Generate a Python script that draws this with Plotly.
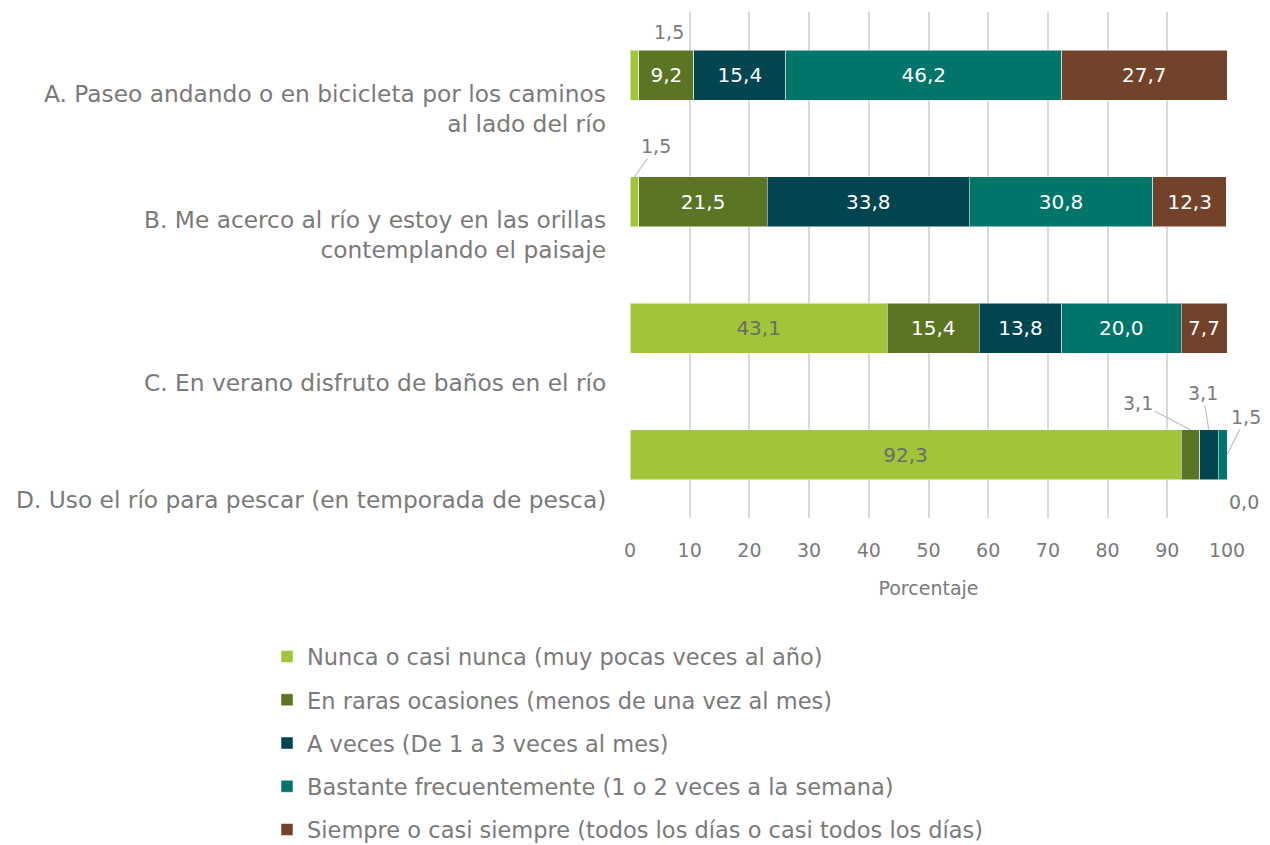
import plotly.graph_objects as go

categories = [
    "A. Paseo andando o en bicicleta por los caminos<br>al lado del río",
    "B. Me acerco al río y estoy en las orillas<br>contemplando el paisaje",
    "C. En verano disfruto de baños en el río",
    "D. Uso el río para pescar (en temporada de pesca)",
]
series_names = [
    "Nunca o casi nunca (muy pocas veces al año)",
    "En raras ocasiones (menos de una vez al mes)",
    "A veces (De 1 a 3 veces al mes)",
    "Bastante frecuentemente (1 o 2 veces a la semana)",
    "Siempre o casi siempre (todos los días o casi todos los días)",
]
nunca = [1.5, 1.5, 43.1, 92.3]
raras = [9.2, 21.5, 15.4, 3.1]
a_veces = [15.4, 33.8, 13.8, 3.1]
bastante = [46.2, 30.8, 20.0, 1.5]
siempre = [27.7, 12.3, 7.7, 0.0]
series_values = [nunca, raras, a_veces, bastante, siempre]

colors = ["#A0C43A", "#5B7524", "#00454F", "#00766A", "#72432A"]
text_colors = ["#6b6b6b", "white", "white", "white", "white"]
GREY = "#7a7a7a"
FONT = "DejaVu Sans"

def fmt(v):
    return f"{v:.1f}".replace(".", ",")

fig = go.Figure()
for i, (name, vals) in enumerate(zip(series_names, series_values)):
    texts = [fmt(v) if v >= 5 else "" for v in vals]
    fig.add_trace(go.Bar(
        y=categories, x=vals, name=name, orientation="h",
        marker=dict(color=colors[i], line=dict(color="rgba(255,255,255,0.5)", width=1)),
        text=texts, textposition="inside", insidetextanchor="middle",
        textfont=dict(color=text_colors[i], size=20, family=FONT),
        width=0.395, legendgroup=f"g{i}", hoverinfo="x+name",
    ))

def seg_mid(si, ci):
    start = sum(series_values[k][ci] for k in range(si))
    return start + series_values[si][ci] / 2

def seg_end(si, ci):
    return sum(series_values[k][ci] for k in range(si + 1))

ann = []
label_shift = [-33, -33, -54, -45]
for c, s in zip(categories, label_shift):
    ann.append(dict(xref="paper", yref="y", x=0, y=c, xanchor="right", yanchor="middle",
                    xshift=-22, yshift=s, text=c, showarrow=False, align="right",
                    font=dict(size=23.3, color=GREY, family=FONT)))

cf = dict(size=19, color=GREY, family=FONT)
lead = dict(showarrow=True, arrowhead=0, arrowwidth=1.2, arrowcolor="#bfbfbf")
# A: 1,5 above the bar
ann.append(dict(x=seg_mid(0, 0), y=categories[0], text=fmt(nunca[0]), showarrow=False,
                xshift=35, yshift=43, font=cf))
# B: 1,5 with leader line
ann.append(dict(x=seg_mid(0, 1), y=categories[1], text=fmt(nunca[1]), ax=22, ay=-31,
                yshift=25, font=cf, **lead))
# D callouts
ann.append(dict(x=seg_mid(1, 3), y=categories[3], text=fmt(raras[3]), ax=-52, ay=-27,
                yshift=25, font=cf, **lead))
ann.append(dict(x=seg_mid(2, 3), y=categories[3], text=fmt(a_veces[3]), ax=-6, ay=-37,
                yshift=25, font=cf, **lead))
ann.append(dict(x=seg_end(3, 3), y=categories[3], text=fmt(bastante[3]), ax=19, ay=-38,
                font=cf, **lead))
ann.append(dict(x=seg_end(4, 3), y=categories[3], text=fmt(siempre[3]), showarrow=False,
                xshift=17, yshift=-47, font=cf))

fig.update_layout(
    barmode="stack",
    width=1254, height=845,
    margin=dict(l=622, r=35, t=4, b=335, autoexpand=False),
    plot_bgcolor="white", paper_bgcolor="white",
    font=dict(family=FONT, color=GREY, size=19),
    annotations=ann,
    xaxis=dict(range=[0, 100], dtick=10, showgrid=True, gridcolor="#d9d9d9", gridwidth=1.5,
               zeroline=False, showline=False, ticks="", ticklabelstandoff=19,
               tickfont=dict(size=19, color=GREY),
               title=dict(text="Porcentaje", font=dict(size=19, color=GREY), standoff=21)),
    yaxis=dict(type="category", categoryorder="array", categoryarray=categories,
               range=[3.5, -0.5], showticklabels=False, showgrid=False, zeroline=False),
    legend=dict(orientation="v", x=-0.608, xanchor="left", y=-0.232, yanchor="top",
                traceorder="grouped", tracegroupgap=11,
                font=dict(size=22.5, color=GREY, family=FONT), bgcolor="rgba(0,0,0,0)"),
    showlegend=True,
)

fig.write_html("out.html")
